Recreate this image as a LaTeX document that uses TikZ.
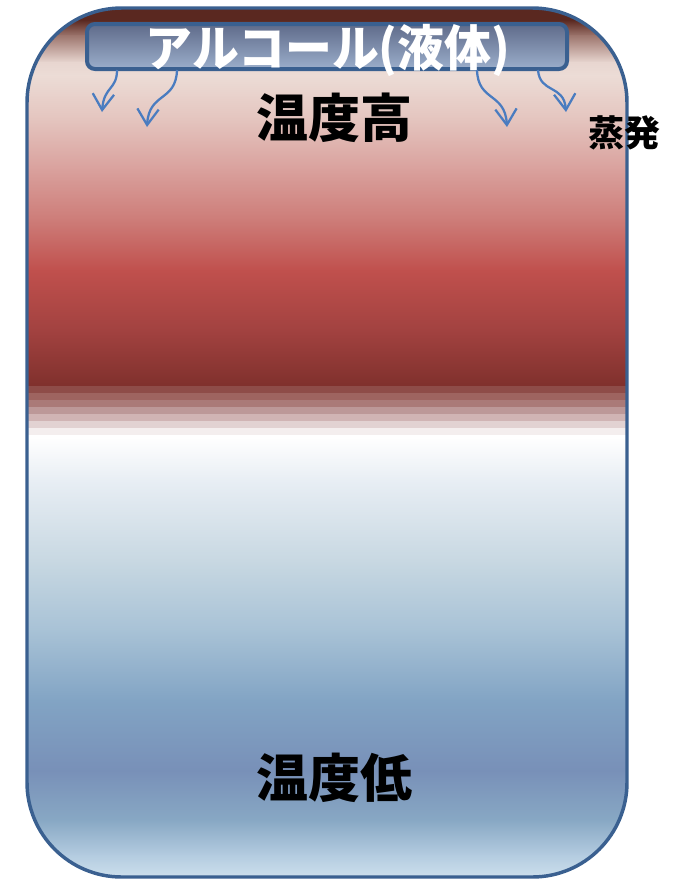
\documentclass[tikz,border=0pt]{standalone}
\usepackage{fontspec}
\newfontfamily\jp{Noto Sans CJK JP}
\newfontfamily\jpnarrow{Noto Sans CJK JP}[FakeStretch=0.95]
\usetikzlibrary{arrows.meta}
\definecolor{rimblue}{HTML}{3A6090}
\definecolor{arrowblue}{HTML}{4A7CC0}
\definecolor{boxtop}{HTML}{5F6B8A}
\definecolor{boxbot}{HTML}{9BAECB}
\tikzset{
  rim/.style={draw=rimblue, line width=2.6pt, rounded corners=71pt},
  vapour/.style={draw=arrowblue, line width=1.7pt, -{Straight Barb[length=12pt,width=16pt,line width=1.7pt]}},
  bigtxt/.style={font=\jp\bfseries\fontsize{39}{42}\selectfont, text=black, inner sep=0pt},
  smalltxt/.style={font=\jp\bfseries\fontsize{27}{29}\selectfont, text=black, inner sep=0pt},
  labeltxt/.style={font=\jpnarrow\bfseries\fontsize{37}{40}\selectfont, text=white, inner sep=0pt},
  liquid/.style={draw=rimblue, line width=3pt, rounded corners=6pt, top color=boxtop, bottom color=boxbot}
}
\begin{document}
\begin{tikzpicture}[x=0.75pt,y=-0.75pt]
\useasboundingbox (0,0) rectangle (672,879);
\begin{scope}
\clip[rounded corners=71pt] (27,8) rectangle (627,877);
\foreach \ya/\yb/\ca/\cb in {
  0/20/5A2820/5A2820,
  20/35/5A2820/9C746C,
  35/62/9C746C/E8D6D0,
  62/75/E8D6D0/ECDCD6,
  75/120/ECDCD6/E4C4BE,
  120/170/E4C4BE/D9A09C,
  170/220/D9A09C/CD7C78,
  220/270/CD7C78/C0504D,
  270/330/C0504D/A24240,
  330/386/A24240/7F302C,
  437/480/FFFFFF/E8EEF4,
  480/560/E8EEF4/C8D8E2,
  560/630/C8D8E2/A8C2D6,
  630/700/A8C2D6/82A4C4,
  700/770/82A4C4/7890B8,
  770/820/7890B8/88A8C4,
  820/855/88A8C4/B4CCE0,
  855/880/B4CCE0/D0E2EE}
{
  \definecolor{ca}{HTML}{\ca}\definecolor{cb}{HTML}{\cb}
  \shade[top color=ca, bottom color=cb] (20,\ya) rectangle (640,\yb+0.8);
}
\foreach \ya/\yb/\cc in {
  386/393/8E4C48, 393/400/9E6460, 400/407/AA7A78, 407/414/BC9898,
  414/421/D0B4B4, 421/428/E2D2D2, 428/435/F4EEEE, 435/438/FFFFFF}
{
  \definecolor{cc}{HTML}{\cc}
  \fill[cc] (20,\ya) rectangle (640,\yb+0.6);
}
\end{scope}
\draw[rim] (27,8) rectangle (627,877);
\node[liquid, minimum width=480*0.75pt, minimum height=45*0.75pt, inner sep=0pt] (box) at (327,46.5) {};
\node[labeltxt] (lbl) at (328,50) {アルコール(液体)};
\coordinate (s1) at (117,70);
\coordinate (s2) at (177,70);
\coordinate (s3) at (477,70);
\coordinate (s4) at (538,70);
\coordinate (e1) at (102,112);
\coordinate (e2) at (147,127);
\coordinate (e3) at (507,127);
\coordinate (e4) at (566,112);
\draw[vapour] (s1) .. controls (117,90) and (104,86) .. (e1);
\draw[vapour] (s2) .. controls (176,102) and (149,92) .. (e2);
\draw[vapour] (s3) .. controls (478,102) and (505,92) .. (e3);
\draw[vapour] (s4) .. controls (540,94) and (564,84) .. (e4);
\node[bigtxt] (hot) at (334,118) {温度高};
\node[bigtxt] (cold) at (334,778) {温度低};
\node[smalltxt] (evap) at (624,133) {蒸発};
\end{tikzpicture}
\end{document}
